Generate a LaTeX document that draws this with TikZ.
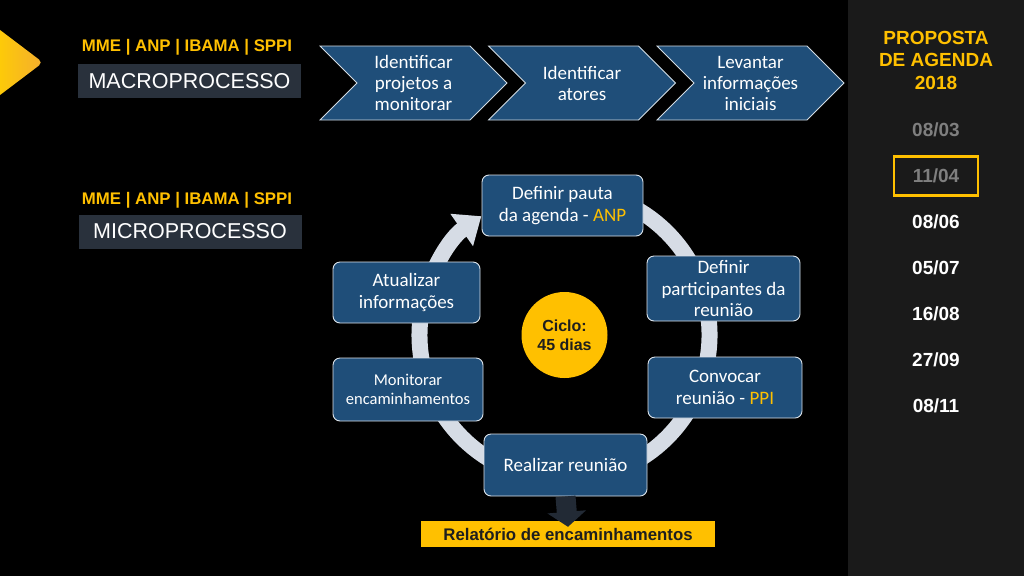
\documentclass[tikz,border=0pt]{standalone}
\usepackage{fontspec}
\setmainfont{Carlito}
\newfontfamily\arialfont{Liberation Sans}
\usepackage{tikz}
\usetikzlibrary{arrows.meta,shapes.symbols}
\definecolor{yel}{HTML}{FFC000}
\definecolor{boxblue}{HTML}{1F4E79}
\definecolor{ringgray}{HTML}{D6DCE5}
\definecolor{slate}{HTML}{222A35}
\definecolor{titlebg}{HTML}{29313C}
\definecolor{panel}{HTML}{1A1A1A}
\definecolor{dimgray}{HTML}{7F7F7F}
\definecolor{darktext}{HTML}{1E1E1E}
\definecolor{goldL}{HTML}{FFD000}
\definecolor{goldR}{HTML}{F4AE2E}

\begin{document}
\begin{tikzpicture}[x=1pt,y=-1pt,
  tag/.style={font=\arialfont\bfseries\fontsize{16.8}{20}\selectfont,text=yel,inner sep=0pt},
  title/.style={fill=titlebg,text=white,font=\arialfont\fontsize{21.5}{24}\selectfont,minimum width=223pt,minimum height=34pt,inner sep=0pt},
  chev/.style={shape=signal,signal from=west,signal to=east,signal pointer angle=90,fill=boxblue,draw=white!80!boxblue,line width=0.8pt,minimum width=187pt,minimum height=74pt,text=white,align=center,font=\fontsize{19}{21}\selectfont,inner sep=0pt},
  proc/.style={rectangle,rounded corners=7pt,fill=boxblue,draw=white!85!boxblue,line width=0.9pt,text=white,align=center,font=\fontsize{19}{21.5}\selectfont,inner sep=0pt},
  ring/.style={draw=ringgray,line width=16pt,-{Triangle[width=38pt,length=24pt]}},
  date/.style={font=\arialfont\bfseries\fontsize{19}{22}\selectfont,inner sep=0pt}]
\useasboundingbox (0,0) rectangle (1024,576);
\fill[black] (0,0) rectangle (1024,576);
\fill[panel] (848,0) rectangle (1024,576);
\shade[left color=goldL,right color=goldR,rounded corners=5pt]
   (-10,22.4) -- (43,62.5) -- (-10,102.6) -- cycle;

\node[tag] (tag1) at (187,47) {MME | ANP | IBAMA | SPPI};
\node[title] (macro) at (189.5,81) {MACROPROCESSO};
\node[tag] (tag2) at (187,200) {MME | ANP | IBAMA | SPPI};
\node[title] (micro) at (190,231.5) {MICROPROCESSO};

\foreach \x/\txt [count=\i] in %
{413.5/{Identificar\\projetos a\\monitorar},582/{Identificar\\atores},750.5/{Levantar\\informações\\iniciais}} {
   \node[chev] (chev\i) at (\x,83) {\txt};
}

\node[circle,fill=yel,minimum size=86pt,inner sep=0pt,align=center,text=darktext,
   font=\arialfont\bfseries\fontsize{16}{19}\selectfont] (cyc) at (564.5,335) {Ciclo:\\45 dias};
\draw[ring] ([shift={(-80:145)}]cyc.center) arc[start angle=-80,end angle=235,radius=145];

\node[proc,minimum width=161pt,minimum height=61pt] (pauta) at (562.5,205.5) {Definir pauta\\da agenda - \textcolor{yel}{ANP}};
\node[proc,minimum width=153pt,minimum height=65pt] (partic) at (723.5,288.5) {Definir\\participantes da\\reunião};
\node[proc,minimum width=154pt,minimum height=61pt] (convoc) at (725,387.5) {Convocar\\reunião - \textcolor{yel}{PPI}};
\node[proc,minimum width=163pt,minimum height=62pt] (realiz) at (565.5,465) {Realizar reunião};
\node[proc,minimum width=150pt,minimum height=63pt,font=\fontsize{16.5}{19}\selectfont] (monit) at (408,389.5) {Monitorar\\encaminhamentos};
\node[proc,minimum width=147pt,minimum height=61pt] (atual) at (406.5,292.5) {Atualizar\\informações};

\node[fill=yel,minimum width=294pt,minimum height=26pt,inner sep=0pt,text=darktext,
   font=\arialfont\bfseries\fontsize{16.8}{19}\selectfont] (relat) at (568,534) {Relatório de encaminhamentos};
\draw[slate,line width=20pt,-{Triangle[width=38pt,length=15pt]}] (realiz.south) -- ([yshift=-6pt]relat.north);

\node[align=center,text=yel,font=\arialfont\bfseries\fontsize{19}{22.5}\selectfont] (agenda) at (936,60) {PROPOSTA\\DE AGENDA\\2018};
\foreach \d [count=\i] in {08/03,11/04,08/06,05/07,16/08,27/09,08/11} {
   \ifnum\i<3 \def\dc{dimgray}\else\def\dc{white}\fi
   \node[date,text=\dc] (d\i) at (936,{130+(\i-1)*46}) {\d};
}
\node[draw=yel,line width=2.5pt,minimum width=84pt,minimum height=39pt] (hl) at (d2) {};
\end{tikzpicture}
\end{document}
